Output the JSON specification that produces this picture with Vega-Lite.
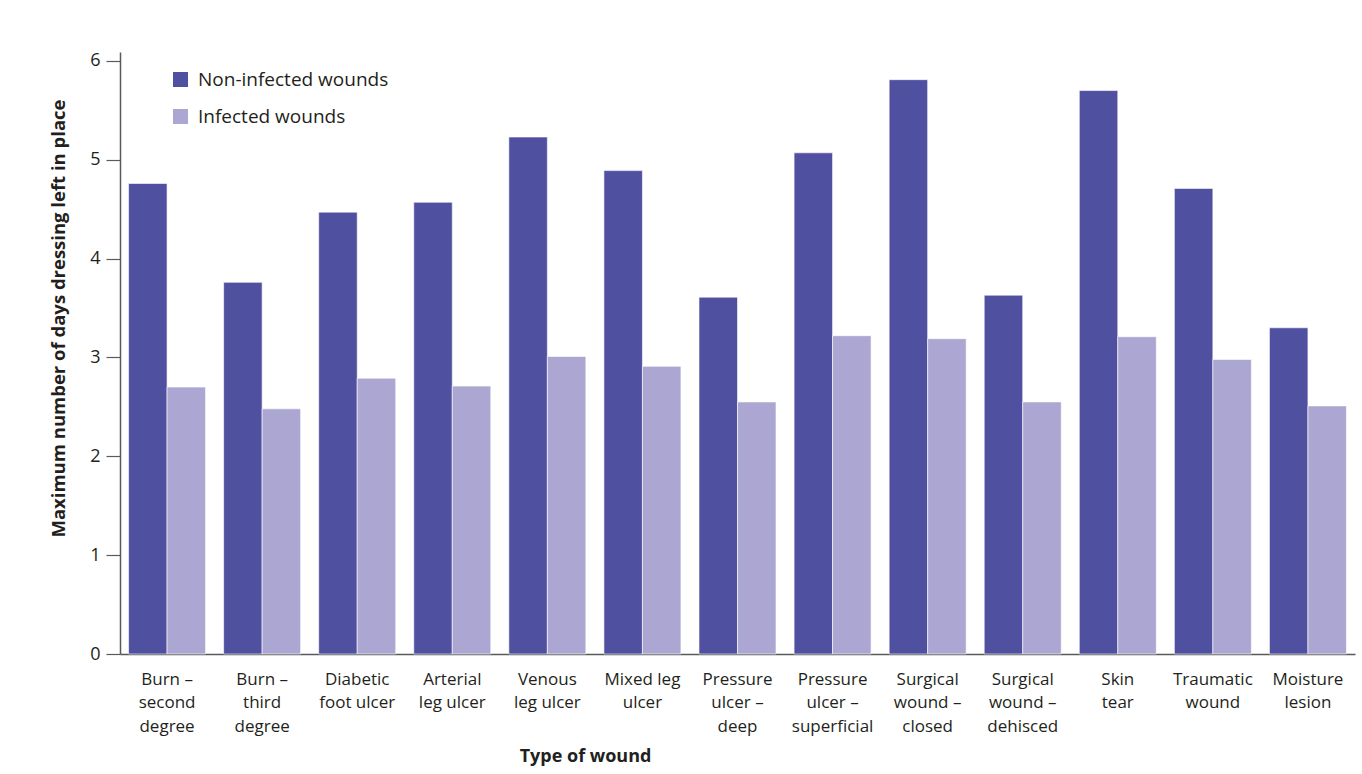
{
  "$schema": "https://vega.github.io/schema/vega-lite/v6.json",
  "autosize": "none",
  "width": 1235,
  "height": 602,
  "padding": {"left": 120, "top": 52, "right": 7, "bottom": 120},
  "background": "white",
  "config": {
    "font": "Open Sans",
    "view": {"stroke": null},
    "axis": {"labelColor": "#231f20", "titleColor": "#231f20", "domainColor": "#58595b", "tickColor": "#58595b", "domainWidth": 1.5, "tickWidth": 1.2, "grid": false}
  },
  "data": {
    "values": [
      {"wound": "Burn – second degree", "group": "Non-infected wounds", "days": 4.76},
      {"wound": "Burn – second degree", "group": "Infected wounds", "days": 2.70},
      {"wound": "Burn – third degree", "group": "Non-infected wounds", "days": 3.76},
      {"wound": "Burn – third degree", "group": "Infected wounds", "days": 2.48},
      {"wound": "Diabetic foot ulcer", "group": "Non-infected wounds", "days": 4.47},
      {"wound": "Diabetic foot ulcer", "group": "Infected wounds", "days": 2.79},
      {"wound": "Arterial leg ulcer", "group": "Non-infected wounds", "days": 4.57},
      {"wound": "Arterial leg ulcer", "group": "Infected wounds", "days": 2.71},
      {"wound": "Venous leg ulcer", "group": "Non-infected wounds", "days": 5.23},
      {"wound": "Venous leg ulcer", "group": "Infected wounds", "days": 3.01},
      {"wound": "Mixed leg ulcer", "group": "Non-infected wounds", "days": 4.89},
      {"wound": "Mixed leg ulcer", "group": "Infected wounds", "days": 2.91},
      {"wound": "Pressure ulcer – deep", "group": "Non-infected wounds", "days": 3.61},
      {"wound": "Pressure ulcer – deep", "group": "Infected wounds", "days": 2.55},
      {"wound": "Pressure ulcer – superficial", "group": "Non-infected wounds", "days": 5.07},
      {"wound": "Pressure ulcer – superficial", "group": "Infected wounds", "days": 3.22},
      {"wound": "Surgical wound – closed", "group": "Non-infected wounds", "days": 5.81},
      {"wound": "Surgical wound – closed", "group": "Infected wounds", "days": 3.19},
      {"wound": "Surgical wound – dehisced", "group": "Non-infected wounds", "days": 3.63},
      {"wound": "Surgical wound – dehisced", "group": "Infected wounds", "days": 2.55},
      {"wound": "Skin tear", "group": "Non-infected wounds", "days": 5.70},
      {"wound": "Skin tear", "group": "Infected wounds", "days": 3.21},
      {"wound": "Traumatic wound", "group": "Non-infected wounds", "days": 4.71},
      {"wound": "Traumatic wound", "group": "Infected wounds", "days": 2.98},
      {"wound": "Moisture lesion", "group": "Non-infected wounds", "days": 3.30},
      {"wound": "Moisture lesion", "group": "Infected wounds", "days": 2.51}
    ]
  },
  "mark": {"type": "bar", "stroke": "white", "strokeWidth": 0.6},
  "encoding": {
    "x": {
      "field": "wound", "type": "nominal", "sort": null,
      "scale": {"paddingInner": 0.19, "paddingOuter": 0.09},
      "axis": {
        "title": "Type of wound", "titleFontSize": 18, "titleFontWeight": "bold",
        "titleX": 465, "titleY": 102, "titleBaseline": "middle",
        "labelAngle": 0, "labelFontSize": 17, "labelLineHeight": 23.5, "labelPadding": 17,
        "labelBaseline": "top", "ticks": false, "labelLimit": 0,
        "labelExpr": "datum.value == 'Burn – second degree' ? ['Burn –','second','degree'] : datum.value == 'Burn – third degree' ? ['Burn –','third','degree'] : datum.value == 'Diabetic foot ulcer' ? ['Diabetic','foot ulcer'] : datum.value == 'Arterial leg ulcer' ? ['Arterial','leg ulcer'] : datum.value == 'Venous leg ulcer' ? ['Venous','leg ulcer'] : datum.value == 'Mixed leg ulcer' ? ['Mixed leg','ulcer'] : datum.value == 'Pressure ulcer – deep' ? ['Pressure','ulcer –','deep'] : datum.value == 'Pressure ulcer – superficial' ? ['Pressure','ulcer –','superficial'] : datum.value == 'Surgical wound – closed' ? ['Surgical','wound –','closed'] : datum.value == 'Surgical wound – dehisced' ? ['Surgical','wound –','dehisced'] : datum.value == 'Skin tear' ? ['Skin','tear'] : datum.value == 'Traumatic wound' ? ['Traumatic','wound'] : ['Moisture','lesion']"
      }
    },
    "xOffset": {"field": "group", "type": "nominal", "sort": ["Non-infected wounds", "Infected wounds"], "scale": {"paddingInner": 0, "paddingOuter": 0}},
    "y": {
      "field": "days", "type": "quantitative",
      "scale": {"domain": [0, 6.09], "nice": false},
      "axis": {
        "title": "Maximum number of days dressing left in place", "titleFontSize": 18.5, "titleFontWeight": "bold",
        "titleX": -62, "titleY": 266, "titleBaseline": "middle", "titleAngle": -90,
        "values": [0, 1, 2, 3, 4, 5, 6], "labelFontSize": 18, "tickSize": 14, "labelPadding": 6
      }
    },
    "color": {
      "field": "group", "type": "nominal",
      "scale": {"domain": ["Non-infected wounds", "Infected wounds"], "range": ["#5050a0", "#aba6d2"]},
      "legend": {
        "title": null, "orient": "none", "legendX": 51, "legendY": 18,
        "symbolType": "square", "symbolSize": 225, "symbolStrokeWidth": 0,
        "labelFontSize": 19, "labelColor": "#231f20", "rowPadding": 17, "labelOffset": 8, "labelLimit": 0
      }
    }
  }
}
